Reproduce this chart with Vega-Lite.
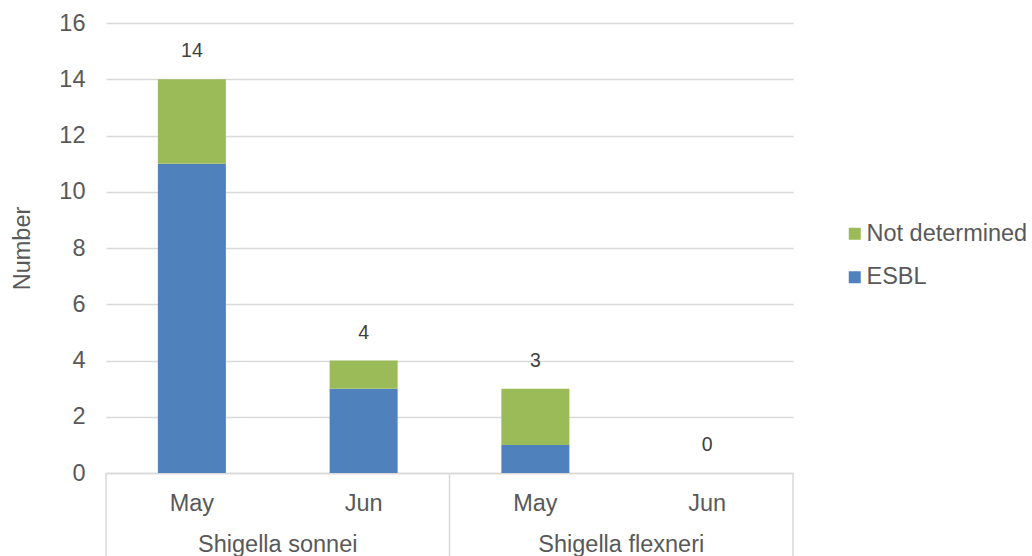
{
  "$schema": "https://vega.github.io/schema/vega-lite/v6.json",
  "width": 687,
  "height": 450,
  "autosize": "none",
  "padding": {"left": 106, "top": 23, "right": 239, "bottom": 83},
  "background": "white",
  "config": {
    "view": {"stroke": null},
    "font": "Liberation Sans",
    "text": {"font": "Liberation Sans"}
  },
  "data": {
    "values": [
      {"group": "Shigella sonnei", "month": "May", "type": "ESBL", "count": 11},
      {"group": "Shigella sonnei", "month": "May", "type": "Not determined", "count": 3},
      {"group": "Shigella sonnei", "month": "Jun", "type": "ESBL", "count": 3},
      {"group": "Shigella sonnei", "month": "Jun", "type": "Not determined", "count": 1},
      {"group": "Shigella flexneri", "month": "May", "type": "ESBL", "count": 1},
      {"group": "Shigella flexneri", "month": "May", "type": "Not determined", "count": 2},
      {"group": "Shigella flexneri", "month": "Jun", "type": "ESBL", "count": 0},
      {"group": "Shigella flexneri", "month": "Jun", "type": "Not determined", "count": 0}
    ]
  },
  "transform": [{"calculate": "datum.group + '|' + datum.month", "as": "cat"}],
  "encoding": {
    "x": {
      "field": "cat",
      "type": "nominal",
      "scale": {
        "domain": ["Shigella sonnei|May", "Shigella sonnei|Jun", "Shigella flexneri|May", "Shigella flexneri|Jun"],
        "paddingInner": 0,
        "paddingOuter": 0
      },
      "axis": {
        "title": null,
        "labelExpr": "split(datum.label, '|')[1]",
        "labelAngle": 0,
        "ticks": false,
        "domainColor": "#D9D9D9",
        "domainWidth": 1.5,
        "labelFontSize": 23.5,
        "labelColor": "#595959",
        "labelBaseline": "alphabetic",
        "labelPadding": 37
      }
    }
  },
  "layer": [
    {
      "mark": {"type": "bar", "width": {"band": 0.396}},
      "encoding": {
        "y": {
          "field": "count",
          "type": "quantitative",
          "stack": "zero",
          "scale": {"domain": [0, 16], "nice": false},
          "axis": {
            "title": "Number",
            "titleFontSize": 23.5,
            "titleFontWeight": "normal",
            "titleColor": "#595959",
            "titleAngle": 270,
            "titleX": -84,
            "titleY": 225,
            "titleAlign": "center",
            "titleBaseline": "middle",
            "values": [0, 2, 4, 6, 8, 10, 12, 14, 16],
            "domain": false,
            "ticks": false,
            "gridColor": "#D9D9D9",
            "gridWidth": 1.5,
            "labelFontSize": 23.5,
            "labelColor": "#595959",
            "labelPadding": 21
          }
        },
        "color": {
          "field": "type",
          "type": "nominal",
          "scale": {"domain": ["Not determined", "ESBL"], "range": ["#9BBB59", "#4F81BD"]},
          "legend": {
            "title": null,
            "orient": "none",
            "legendX": 737,
            "legendY": 199,
            "padding": 0,
            "symbolType": "square",
            "symbolSize": 144,
            "symbolStrokeWidth": 0,
            "labelFontSize": 23.5,
            "labelColor": "#595959",
            "labelOffset": 0,
            "labelLimit": 400,
            "rowPadding": 18.5
          }
        },
        "order": {"field": "type", "type": "nominal", "sort": "ascending"}
      }
    },
    {
      "mark": {"type": "text", "baseline": "alphabetic", "dy": -22, "fontSize": 19.5, "color": "#404040"},
      "encoding": {
        "y": {"field": "count", "type": "quantitative", "aggregate": "sum"},
        "text": {"field": "count", "type": "quantitative", "aggregate": "sum"}
      }
    },
    {
      "transform": [{"filter": "datum.month === 'May' && datum.type === 'ESBL'"}],
      "mark": {"type": "text", "baseline": "alphabetic", "fontSize": 23.5, "color": "#595959"},
      "encoding": {
        "x": {"field": "cat", "type": "nominal", "bandPosition": 1},
        "y": {"datum": -2.82, "type": "quantitative"},
        "text": {"field": "group", "type": "nominal"}
      }
    },
    {
      "transform": [{"filter": "datum.month === 'May' && datum.type === 'ESBL'"}],
      "mark": {"type": "rule", "color": "#D9D9D9", "strokeWidth": 1.5},
      "encoding": {
        "x": {"field": "cat", "type": "nominal", "bandPosition": 0},
        "y": {"datum": 0, "type": "quantitative"},
        "y2": {"datum": -2.95}
      }
    },
    {
      "transform": [{"filter": "datum.group === 'Shigella flexneri' && datum.month === 'Jun' && datum.type === 'ESBL'"}],
      "mark": {"type": "rule", "color": "#D9D9D9", "strokeWidth": 1.5},
      "encoding": {
        "x": {"field": "cat", "type": "nominal", "bandPosition": 1},
        "y": {"datum": 0, "type": "quantitative"},
        "y2": {"datum": -2.95}
      }
    }
  ]
}
